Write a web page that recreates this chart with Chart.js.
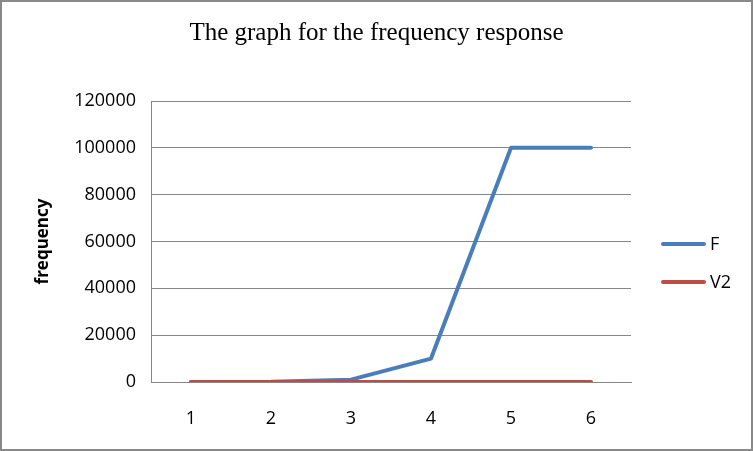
<!DOCTYPE html>
<html>
<head>
<meta charset="utf-8">
<script src="https://cdn.jsdelivr.net/npm/chart.js@4/dist/chart.umd.min.js"></script>
<style>
  html, body { margin: 0; padding: 0; background: #fff; }
  #wrap { width: 753px; height: 451px; position: relative; }
</style>
</head>
<body>
<div id="wrap"><canvas id="chart" width="753" height="451"></canvas></div>
<script>
// data
const categories = ['1', '2', '3', '4', '5', '6'];
const seriesF = [10, 100, 1000, 10000, 100000, 100000];
const seriesV2 = [1, 1, 1, 1, 1, 1];
const yTicks = [0, 20000, 40000, 60000, 80000, 100000, 120000];

const BLUE = '#4a7ebb';
const RED = '#be4b48';
const GRID = '#868686';
const FONT = "'Open Sans', 'Noto Sans', sans-serif";

// legend + outer frame, Excel style
const frameLegend = {
  id: 'frameLegend',
  afterDraw(chart) {
    const ctx = chart.ctx;
    ctx.save();
    const rows = [244, 282];
    chart.data.datasets.forEach((ds, i) => {
      const y = rows[i];
      ctx.strokeStyle = ds.borderColor;
      ctx.lineWidth = 4;
      ctx.lineCap = 'round';
      ctx.beginPath();
      ctx.moveTo(663, y);
      ctx.lineTo(704, y);
      ctx.stroke();
      ctx.fillStyle = '#000';
      ctx.font = '18px ' + FONT;
      ctx.textBaseline = 'middle';
      ctx.fillText(ds.label, 710, y + 1);
    });
    ctx.strokeStyle = '#898989';
    ctx.lineWidth = 2;
    ctx.strokeRect(1, 1, chart.width - 2, chart.height - 2);
    ctx.restore();
  }
};

new Chart(document.getElementById('chart'), {
  type: 'line',
  data: {
    labels: categories,
    datasets: [
      { label: 'F', data: seriesF, borderColor: BLUE, order: 1 },
      { label: 'V2', data: seriesV2, borderColor: RED, order: 0 },
    ],
  },
  options: {
    responsive: false,
    animation: false,
    events: [],
    elements: {
      point: { radius: 0 },
      line: { borderWidth: 4, tension: 0, borderJoinStyle: 'round', borderCapStyle: 'round', fill: false },
    },
    layout: { padding: 0 },
    plugins: {
      legend: { display: false },
      tooltip: { enabled: false },
      title: {
        display: true,
        text: 'The graph for the frequency response',
        color: '#000',
        font: { family: "'Liberation Serif', 'Times New Roman', serif", size: 25, weight: 'normal' },
        padding: { top: 18, bottom: 53 },
      },
    },
    scales: {
      x: {
        offset: true,
        grid: { display: false, drawTicks: false },
        border: { color: GRID, width: 1 },
        ticks: { color: '#000', font: { family: FONT, size: 18 }, padding: 26, maxRotation: 0 },
        afterFit(s) { s.height = 69; },
      },
      y: {
        min: 0,
        max: 120000,
        afterBuildTicks(s) { s.ticks = yTicks.map((v) => ({ value: v })); },
        grid: { color: GRID, drawTicks: false },
        border: { color: GRID, width: 1 },
        ticks: { color: '#000', font: { family: FONT, size: 18 }, padding: 15, callback: (v) => String(v) },
        title: {
          display: true,
          text: 'frequency',
          color: '#000',
          font: { family: FONT, size: 17, weight: 'bold' },
          padding: { top: 33, bottom: 0 },
        },
        afterFit(s) { s.width = 151; },
      },
      // empty right band that holds the legend
      side: {
        type: 'linear',
        position: 'right',
        grid: { display: false, drawTicks: false },
        border: { display: false },
        ticks: { display: false },
        afterFit(s) { s.width = 122; },
      },
    },
  },
  plugins: [frameLegend],
});
</script>
</body>
</html>
